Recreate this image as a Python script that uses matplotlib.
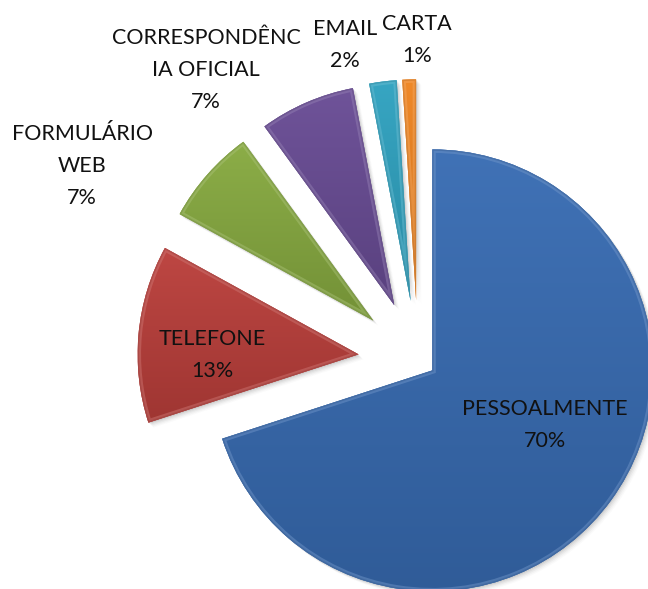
import numpy as np
import matplotlib
matplotlib.use("Agg")
import matplotlib.pyplot as plt
from matplotlib.patches import Wedge
from matplotlib.colors import to_rgb

# Channels of service requests
categories = ["PESSOALMENTE", "TELEFONE", "FORMULÁRIO WEB",
              "CORRESPONDÊNCIA OFICIAL", "EMAIL", "CARTA"]
label_text = ["PESSOALMENTE", "TELEFONE", "FORMULÁRIO\nWEB",
              "CORRESPONDÊNC\nIA OFICIAL", "EMAIL", "CARTA"]
shares = [70, 13, 7, 7, 2, 1]

colors = ["#386cb3", "#bb3f3b", "#87aa40", "#694c95", "#2fa2c0", "#ef8420"]
explode_frac = [0.08, 0.27, 0.27, 0.27, 0.27, 0.27]

W, H = 648, 589
R = 221
CENTER = (418, H - 360)

fig = plt.figure(figsize=(W / 100, H / 100), dpi=100)
ax = fig.add_axes([0, 0, 1, 1])

wedges, _ = ax.pie(shares, explode=[e * R for e in explode_frac],
                   startangle=90, counterclock=False, radius=R,
                   center=CENTER, colors=colors,
                   wedgeprops=dict(linewidth=0))


def shade(c, f):
    c = np.array(to_rgb(c))
    if f >= 1:
        return tuple(c + (1 - c) * (f - 1))
    return tuple(c * f)


for w, col in zip(wedges, colors):
    w.set_zorder(2)
    cx, cy = w.center
    # soft drop shadow
    for k, a in zip(range(1, 6), [0.09, 0.07, 0.05, 0.035, 0.025]):
        s = Wedge((cx + k, cy - k), w.r, w.theta1, w.theta2,
                  facecolor="#404040", alpha=a, linewidth=0, zorder=1)
        ax.add_patch(s)
    # vertical gradient fill, lighter on top
    bb = w.get_path().transformed(w.get_patch_transform()).get_extents()
    n = 256
    t = np.linspace(0, 1, n)[:, None]
    top = np.array(shade(col, 1.04))
    bot = np.array(shade(col, 0.85))
    img = top[None, None, :] * (1 - t[..., None]) + bot[None, None, :] * t[..., None]
    im = ax.imshow(img, extent=(bb.x0, bb.x1, bb.y0, bb.y1), origin="upper",
                   aspect="auto", zorder=3, interpolation="bilinear")
    im.set_clip_path(w)
    # bevel: light inner rim, slightly darker outer line
    hl = Wedge((cx, cy), w.r, w.theta1, w.theta2, facecolor="none",
               edgecolor=shade(col, 1.3), linewidth=5, alpha=0.45, zorder=4)
    ax.add_patch(hl)
    hl.set_clip_path(w)
    dk = Wedge((cx, cy), w.r, w.theta1, w.theta2, facecolor="none",
               edgecolor=shade(col, 0.75), linewidth=2, alpha=0.35, zorder=4)
    ax.add_patch(dk)
    dk.set_clip_path(w)

# data labels (pixel positions, measured from the top)
label_pos = [(545, 425), (212, 355), (82, 166), (206, 70), (345, 45), (417, 40)]
for txt, v, (x, y) in zip(label_text, shares, label_pos):
    ax.text(x, H - y, f"{txt}\n{v}%", ha="center", va="center",
            fontsize=15.5, family=["Lato", "DejaVu Sans"], color="#111111",
            linespacing=1.75, zorder=6)

ax.set_xlim(0, W)
ax.set_ylim(0, H)
ax.set_aspect("equal")
ax.axis("off")
fig.savefig("out.png", dpi=100, facecolor="white")
